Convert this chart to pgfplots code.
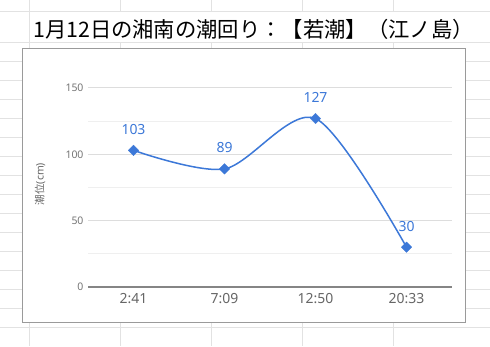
\documentclass[border=0pt]{standalone}
\usepackage{fontspec}
\setmainfont{Noto Sans}
\newfontfamily\jp{Noto Sans CJK JP}
\usepackage{pgfplots}
\pgfplotsset{compat=1.18}
\definecolor{lineblue}{HTML}{3C78D8}
\definecolor{sheetgrid}{HTML}{E2E2E2}
\definecolor{boxgray}{HTML}{9A9A9A}
\definecolor{majgrid}{HTML}{DDDDDD}
\definecolor{mingrid}{HTML}{EFEFEF}
\definecolor{ticktext}{HTML}{757575}
\definecolor{xtext}{HTML}{666666}
\definecolor{axisgray}{HTML}{858585}
\pgfplotstableread{
x y
0 103
1 89
2 127
3 30
}\tide
\begin{document}
\begin{tikzpicture}[x=1bp,y=1bp]
\useasboundingbox (0,0) rectangle (490,346);
\fill[white] (0,0) rectangle (490,346);
\foreach \x in {29.5,120.5,211.5,302.5,393.5} \draw[sheetgrid, line width=1bp] (\x,0) -- (\x,346);
\foreach \y in {12,42,61,80,99,118,137,156,175,194,213,232,251,270,289,308,327} \draw[sheetgrid, line width=1bp] (0,{346-\y}) -- (490,{346-\y});
\fill[white] (30.2,{346-41.5}) rectangle (490,{346-12.5});
\node[anchor=base west, inner sep=0, font=\jp\fontsize{21.4}{24}\selectfont] at (33,309) {1月12日の湘南の潮回り：【若潮】（江ノ島）};
\filldraw[fill=white, draw=boxgray, line width=1bp] (22,24) rectangle (465,298);
\node[rotate=90, inner sep=0, font=\fontsize{10.5}{12}\selectfont, text=xtext] at (40,162) {{\jp 潮位}(cm)};
\begin{axis}[
  at={(88bp,59bp)}, anchor=south west,
  scale only axis, width=364bp, height=199bp,
  xmin=-0.5, xmax=3.5, ymin=0, ymax=150,
  xtick={0,1,2,3}, xticklabels={2:41,7:09,12:50,20:33},
  ytick={0,50,100,150}, minor ytick={25,75,125},
  ymajorgrids, yminorgrids,
  major grid style={draw=majgrid, line width=1bp},
  minor grid style={draw=mingrid, line width=1bp},
  axis x line*=bottom, axis y line*=left,
  x axis line style={draw=axisgray, line width=1.3bp, -},
  y axis line style={draw=none},
  major tick length=0pt, minor tick length=0pt,
  /pgf/number format/assume math mode=true,
  yticklabel style={font=\fontsize{10.5}{12}\selectfont, text=ticktext, xshift=-1bp},
  xticklabel style={font=\fontsize{14}{16}\selectfont, text=xtext, yshift=-3bp},
  clip=false,
]
\addplot[lineblue, line width=1.5bp, smooth, mark=square*, mark size=3.7bp,
  mark options={fill=lineblue, draw=lineblue, line width=0.3bp, rotate=45},
  nodes near coords,
  every node near coord/.append style={font=\fontsize{14}{16}\selectfont, text=lineblue, inner sep=0pt, anchor=base, yshift=16bp}]
  table[x=x, y=y] {\tide};
\end{axis}
\end{tikzpicture}
\end{document}
